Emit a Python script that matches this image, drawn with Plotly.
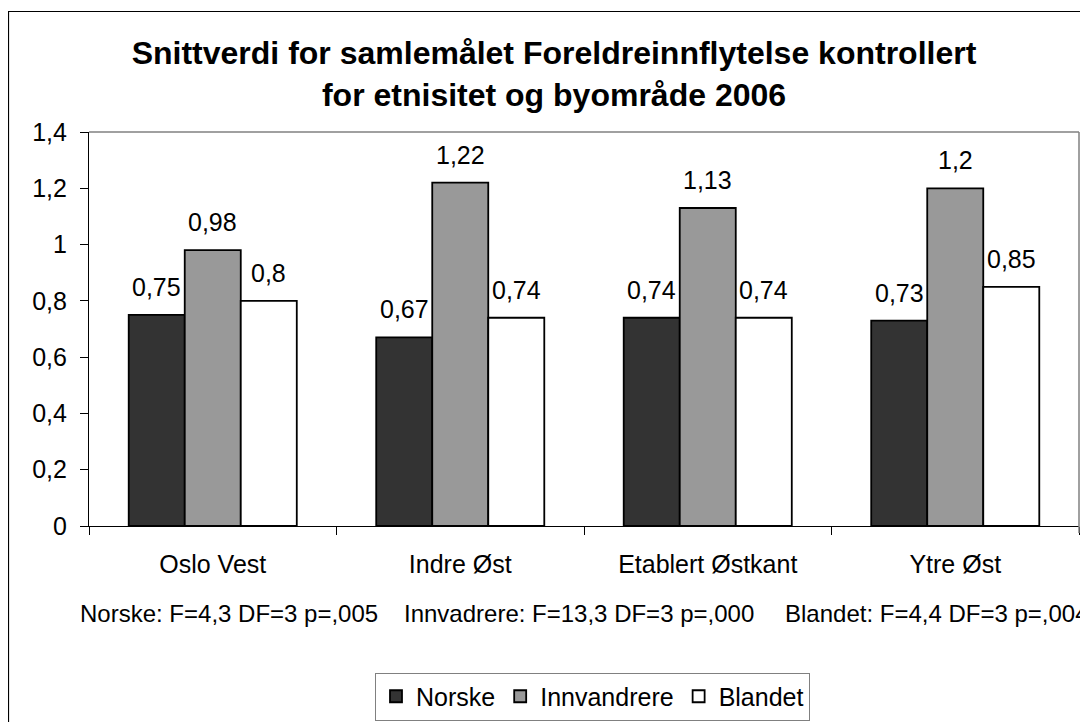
import plotly.graph_objects as go

categories = ["Oslo Vest", "Indre Øst", "Etablert Østkant", "Ytre Øst"]
series_names = ["Norske", "Innvandrere", "Blandet"]
norske = [0.75, 0.67, 0.74, 0.73]
innvandrere = [0.98, 1.22, 1.13, 1.2]
blandet = [0.8, 0.74, 0.74, 0.85]
colors = ["#333333", "#999999", "#ffffff"]
stats_texts = ["Norske: F=4,3 DF=3 p=,005",
               "Innvadrere: F=13,3 DF=3 p=,000",
               "Blandet: F=4,4 DF=3 p=,004"]
title_text = "Snittverdi for samlemålet Foreldreinnflytelse kontrollert<br>for etnisitet og byområde 2006"

FONT = "Liberation Sans, Arial, sans-serif"

def fmt(v):
    return f"{v:g}".replace(".", ",")

W, H = 1080, 714
L, R, T, B = 81, 9, 124, 196
pw, ph = W - L - R, H - T - B
BARGAP = 0.321
bar_px = pw / len(categories) * (1 - BARGAP) / len(series_names)

def px(x):
    return (x - L) / pw

def py(y):
    return (H - B - y) / ph

fig = go.Figure()
all_series = [norske, innvandrere, blandet]
for i, (name, vals, col) in enumerate(zip(series_names, all_series, colors)):
    fig.add_trace(go.Bar(
        x=categories, y=vals, name=name,
        marker=dict(color=col, line=dict(color="black", width=1.8)),
    ))
    for c, v in zip(categories, vals):
        fig.add_annotation(x=c, y=v, xref="x", yref="y", text=fmt(v), showarrow=False,
                           xanchor="center", yanchor="bottom",
                           xshift=(i - 1) * bar_px, yshift=12,
                           font=dict(size=25, family=FONT, color="black"))

fig.update_layout(
    template="none",
    width=W, height=H,
    margin=dict(l=L, r=R, t=T, b=B, pad=0, autoexpand=False),
    paper_bgcolor="white", plot_bgcolor="white",
    separators=", ",
    font=dict(family=FONT, size=25, color="black"),
    barmode="group", bargap=BARGAP, bargroupgap=0,
    title=dict(text="<b>" + title_text + "</b>", x=546 / W, xanchor="center",
               y=1 - 56 / H, yanchor="middle",
               font=dict(size=32, family=FONT, color="black")),
    xaxis=dict(showline=True, linecolor="black", linewidth=1.2, automargin=False,
               ticks="outside", tickson="boundaries", ticklen=8, tickcolor="black",
               tickfont=dict(size=25), showgrid=False, zeroline=False,
               ticklabelstandoff=16),
    yaxis=dict(range=[0, 1.4], dtick=0.2, showline=True, linecolor="black", linewidth=1.2,
               automargin=False,
               ticks="outside", ticklen=8, tickcolor="black", showgrid=False,
               zeroline=False, tickfont=dict(size=25), ticklabelstandoff=8),
    legend=dict(orientation="h", x=px(584.5), xanchor="center", y=py(688.5), yanchor="middle",
                bordercolor="#808080", borderwidth=1, font=dict(size=25),
                bgcolor="white", traceorder="normal"),
    showlegend=True,
)

# plot area top and right frame (gray)
fig.add_shape(type="line", xref="paper", yref="paper", x0=0, x1=1, y0=1, y1=1,
              line=dict(color="#808080", width=1.5))
fig.add_shape(type="line", xref="paper", yref="paper", x0=1, x1=1, y0=py(525), y1=1,
              line=dict(color="#808080", width=1.5))
# outer chart border
fig.add_shape(type="rect", xref="paper", yref="paper", x0=px(0.5), x1=px(1100),
              y0=py(740), y1=py(3.5), line=dict(color="black", width=1.2), layer="below")

for txt, xs in zip(stats_texts, [70, 394, 775]):
    fig.add_annotation(text=txt, xref="paper", yref="paper", x=px(xs), y=py(605),
                       xanchor="left", yanchor="middle", showarrow=False,
                       font=dict(size=24, family=FONT, color="black"))

fig.write_html("out.html")
